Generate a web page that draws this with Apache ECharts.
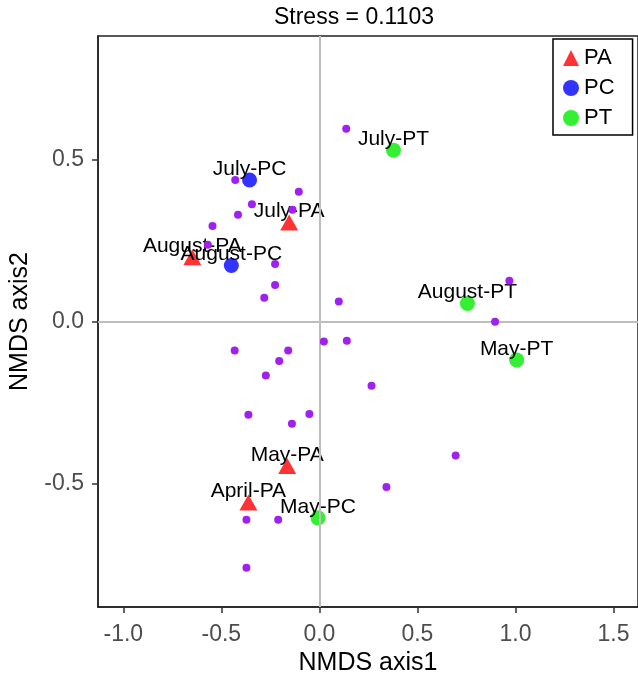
<!DOCTYPE html>
<html>
<head>
<meta charset="utf-8">
<script src="https://cdn.jsdelivr.net/npm/echarts@6/dist/echarts.min.js"></script>
<style>
  html, body { margin: 0; padding: 0; background: #fff; }
  #main { width: 638px; height: 681px; }
</style>
</head>
<body>
<div id="main"></div>
<script>
// site scores
var paNames = ['July-PA', 'August-PA', 'May-PA', 'April-PA']
var paX = [-0.154, -0.648, -0.164, -0.362]
var paY = [0.307, 0.200, -0.444, -0.557]

var pcNames = ['July-PC', 'August-PC']
var pcX = [-0.356, -0.449]
var pcY = [0.438, 0.174]

var ptNames = ['July-PT', 'August-PT', 'May-PT', 'May-PC']
var ptX = [0.378, 0.755, 1.006, -0.007]
var ptY = [0.530, 0.057, -0.117, -0.604]

// species scores (purple dots)
var spX = [-0.429, -0.105, -0.344, -0.137, -0.415, -0.545, -0.569, -0.226, -0.226, -0.281,
           0.099, 0.137, 0.969, 0.896, 0.023, 0.140, 0.266, -0.432, -0.159, -0.205,
           -0.273, -0.362, -0.051, -0.140, 0.695, 0.342, -0.372, -0.210, -0.372]
var spY = [0.438, 0.402, 0.363, 0.346, 0.331, 0.296, 0.238, 0.179, 0.114, 0.075,
           0.063, 0.596, 0.127, 0.001, -0.060, -0.058, -0.197, -0.088, -0.088, -0.120,
           -0.165, -0.286, -0.284, -0.314, -0.412, -0.509, -0.610, -0.610, -0.758]

var xTicks = [-1.0, -0.5, 0.0, 0.5, 1.0, 1.5]
var yTicks = [-0.5, 0.0, 0.5]

var font = 'Liberation Sans, Arial, sans-serif'

function pts (xs, ys, names) {
  return xs.map(function (x, i) {
    return { value: [x, ys[i]], name: names ? names[i] : '' }
  })
}

var siteLabel = {
  show: true,
  position: 'inside',
  offset: [0, -11],
  formatter: '{b}',
  color: '#000',
  fontSize: 21,
  fontFamily: font
}

var chart = echarts.init(document.getElementById('main'))

var option = {
  animation: false,
  title: {
    text: 'Stress = 0.1103',
    left: 349,
    top: 1,
    textAlign: 'center',
    textStyle: { fontSize: 23, fontWeight: 'normal', color: '#000', fontFamily: font }
  },
  legend: {
    left: 553,
    top: 39,
    orient: 'vertical',
    backgroundColor: '#fff',
    borderColor: '#000',
    borderWidth: 1.5,
    borderRadius: 0,
    padding: [7, 18, 5, 10],
    itemGap: 6,
    itemWidth: 16,
    itemHeight: 16,
    textStyle: { fontSize: 22, color: '#000', fontFamily: font, lineHeight: 24 },
    data: [
      { name: 'PA', icon: 'triangle' },
      { name: 'PC', icon: 'circle' },
      { name: 'PT', icon: 'circle' }
    ]
  },
  grid: {
    left: 97,
    right: -3,
    top: 36,
    bottom: 71,
    show: true,
    borderColor: '#222',
    borderWidth: 1.5
  },
  xAxis: {
    type: 'value',
    min: -1.129,
    max: 1.625,
    name: 'NMDS axis1',
    nameLocation: 'middle',
    nameGap: 44,
    nameTextStyle: { fontSize: 25, color: '#000', fontFamily: font },
    splitLine: { show: false },
    axisLine: { show: true, onZero: false, lineStyle: { color: '#222', width: 1.5 } },
    axisTick: { show: true, length: 6, customValues: xTicks, lineStyle: { color: '#333', width: 1.5 } },
    axisLabel: {
      customValues: xTicks,
      margin: 16,
      fontSize: 23,
      color: '#4d4d4d',
      fontFamily: font,
      formatter: function (v) { return v.toFixed(1) }
    }
  },
  yAxis: {
    type: 'value',
    min: -0.879,
    max: 0.882,
    name: 'NMDS axis2',
    nameLocation: 'middle',
    nameGap: 65,
    nameTextStyle: { fontSize: 25, color: '#000', fontFamily: font },
    splitLine: { show: false },
    axisLine: { show: true, onZero: false, lineStyle: { color: '#222', width: 1.5 } },
    axisTick: { show: true, length: 6, customValues: yTicks, lineStyle: { color: '#333', width: 1.5 } },
    axisLabel: {
      customValues: yTicks,
      margin: 14,
      fontSize: 23,
      color: '#4d4d4d',
      fontFamily: font,
      formatter: function (v) { return v.toFixed(1) }
    }
  },
  series: [
    {
      // zero reference lines
      type: 'scatter',
      data: [],
      silent: true,
      markLine: {
        silent: true,
        symbol: 'none',
        label: { show: false },
        lineStyle: { color: '#bebebe', width: 2, type: 'solid', opacity: 1 },
        data: [{ xAxis: 0 }, { yAxis: 0 }]
      },
      z: 1
    },
    {
      name: 'PA',
      type: 'scatter',
      symbol: 'triangle',
      symbolSize: [18, 16],
      itemStyle: { color: '#ff3333', opacity: 1 },
      label: siteLabel,
      data: pts(paX, paY, paNames),
      z: 3
    },
    {
      name: 'PC',
      type: 'scatter',
      symbol: 'circle',
      symbolSize: 15,
      itemStyle: { color: '#3333ff', opacity: 1 },
      label: siteLabel,
      data: pts(pcX, pcY, pcNames),
      z: 3
    },
    {
      name: 'PT',
      type: 'scatter',
      symbol: 'circle',
      symbolSize: 15,
      itemStyle: { color: '#33f033', opacity: 1 },
      label: siteLabel,
      data: pts(ptX, ptY, ptNames),
      z: 3
    },
    {
      name: 'species',
      type: 'scatter',
      symbol: 'circle',
      symbolSize: 8,
      itemStyle: { color: '#a020f0', opacity: 1 },
      data: pts(spX, spY),
      z: 5
    }
  ]
}

chart.setOption(option)
</script>
</body>
</html>
